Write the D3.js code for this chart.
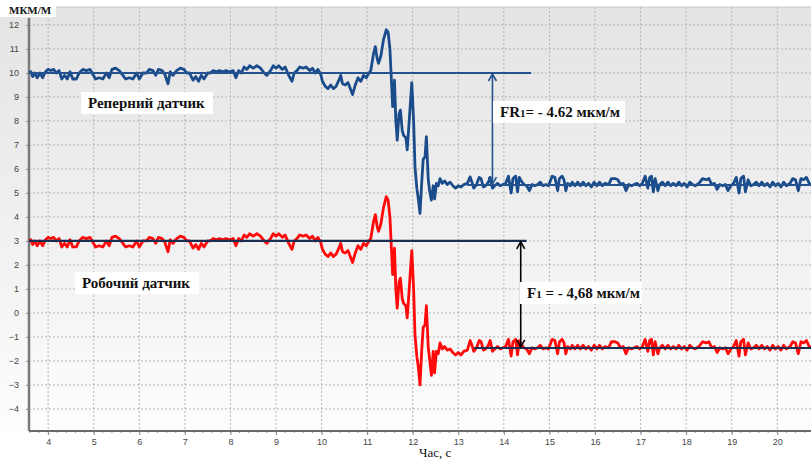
<!DOCTYPE html>
<html>
<head>
<meta charset="utf-8">
<script src="https://cdn.jsdelivr.net/npm/d3@7"></script>
<style>
  body { margin: 0; background: #fff; }
  svg { display: block; }
</style>
</head>
<body>
<div id="chart"></div>
<script>
// tick values
const xTicks = [4, 5, 6, 7, 8, 9, 10, 11, 12, 13, 14, 15, 16, 17, 18, 19, 20];
const yTicks = [-4, -3, -2, -1, 0, 1, 2, 3, 4, 5, 6, 7, 8, 9, 10, 11, 12];

// [time, s ; strain, мкм/м]
const reperSeries = [
  [3.58,10.0],[3.62,10.05],[3.66,9.85],[3.7,10.0],[3.76,9.8],[3.82,10.0],[3.88,9.8],[3.94,10.05],[4.0,10.15],[4.06,10.1],
  [4.12,10.15],[4.18,10.0],[4.24,10.1],[4.3,9.75],[4.36,9.9],[4.42,9.75],[4.48,10.05],[4.54,9.75],[4.62,9.75],[4.68,10.0],
  [4.76,10.15],[4.84,10.1],[4.92,10.15],[4.98,9.95],[5.04,9.75],[5.12,9.8],[5.2,9.75],[5.28,10.0],[5.34,9.8],[5.4,10.15],
  [5.48,10.2],[5.56,10.1],[5.62,9.95],[5.7,9.75],[5.78,9.8],[5.86,9.75],[5.94,10.0],[6.0,9.75],[6.08,10.0],[6.16,10.0],
  [6.22,10.15],[6.3,10.1],[6.36,9.9],[6.42,10.15],[6.5,10.1],[6.56,9.95],[6.63,9.55],[6.68,10.05],[6.74,9.9],[6.82,10.1],
  [6.9,10.2],[6.98,10.15],[7.04,10.0],[7.1,10.0],[7.18,9.7],[7.24,9.85],[7.3,9.65],[7.36,9.9],[7.42,9.75],[7.5,10.0],
  [7.56,10.0],[7.62,10.1],[7.7,10.05],[7.76,10.1],[7.84,10.05],[7.9,10.1],[7.98,10.05],[8.06,10.1],[8.12,9.8],[8.18,10.1],
  [8.24,10.0],[8.3,10.25],[8.36,10.15],[8.42,10.3],[8.5,10.2],[8.58,10.3],[8.66,10.2],[8.74,10.0],[8.8,9.9],[8.88,10.1],
  [8.94,10.3],[9.0,10.2],[9.06,10.3],[9.14,10.15],[9.2,10.25],[9.28,9.9],[9.35,9.65],[9.4,10.0],[9.46,10.1],[9.52,10.25],
  [9.6,10.2],[9.66,10.25],[9.74,10.1],[9.8,10.2],[9.86,10.0],[9.92,10.15],[9.98,9.95],[10.02,9.65],[10.08,9.45],[10.14,9.35],
  [10.2,9.5],[10.26,9.35],[10.32,9.45],[10.38,9.7],[10.42,9.9],[10.46,9.55],[10.52,9.5],[10.58,9.6],[10.64,9.3],[10.68,9.1],
  [10.74,9.5],[10.8,9.8],[10.86,9.65],[10.92,9.9],[10.98,9.8],[11.04,10.0],[11.08,10.1],[11.14,10.8],[11.18,11.1],[11.22,10.6],
  [11.25,10.4],[11.3,10.7],[11.36,11.4],[11.42,11.8],[11.46,11.7],[11.5,11.0],[11.54,9.4],[11.56,8.6],[11.6,9.7],[11.63,8.0],
  [11.66,7.2],[11.7,8.3],[11.73,8.45],[11.77,7.6],[11.8,7.4],[11.85,7.3],[11.88,6.8],[11.93,8.2],[11.98,9.6],[12.02,8.0],
  [12.05,6.1],[12.09,5.2],[12.12,4.8],[12.16,4.15],[12.2,5.5],[12.23,6.4],[12.27,6.5],[12.3,7.35],[12.34,5.6],[12.37,5.1],
  [12.41,4.7],[12.45,5.3],[12.48,4.75],[12.52,5.4],[12.56,5.3],[12.6,5.6],[12.65,5.4],[12.7,5.5],[12.76,5.35],[12.82,5.45],
  [12.88,5.3],[12.94,5.2],[13.0,5.3],[13.06,5.25],[13.12,5.35],[13.2,5.4],[13.26,5.67],[13.3,5.45],[13.34,5.2],[13.4,5.35],
  [13.46,5.65],[13.5,5.6],[13.55,5.25],[13.6,5.3],[13.66,5.45],[13.7,5.65],[13.75,5.2],[13.8,5.3],[13.86,5.4],[13.92,5.3],
  [13.98,5.35],[14.04,5.4],[14.1,5.7],[14.16,5.0],[14.2,5.6],[14.26,5.7],[14.3,5.05],[14.34,5.65],[14.38,5.5],[14.44,5.35],
  [14.5,5.3],[14.56,5.1],[14.62,5.35],[14.68,5.3],[14.74,5.35],[14.8,5.45],[14.86,5.3],[14.92,5.35],[14.98,5.3],[15.06,5.7],
  [15.12,5.65],[15.18,5.1],[15.22,5.6],[15.28,5.7],[15.32,5.55],[15.36,5.1],[15.4,5.4],[15.46,5.3],[15.5,5.45],[15.56,5.3],
  [15.62,5.45],[15.68,5.3],[15.74,5.45],[15.8,5.3],[15.86,5.4],[15.92,5.25],[15.98,5.45],[16.04,5.3],[16.1,5.45],[16.16,5.3],
  [16.22,5.4],[16.3,5.35],[16.36,5.6],[16.44,5.6],[16.5,5.55],[16.56,5.35],[16.62,5.4],[16.68,5.1],[16.74,5.35],[16.8,5.3],
  [16.86,5.35],[16.92,5.4],[16.98,5.3],[17.04,5.4],[17.1,5.7],[17.16,5.2],[17.2,5.65],[17.24,5.7],[17.28,5.05],[17.32,5.6],
  [17.38,5.1],[17.42,5.35],[17.48,5.45],[17.54,5.3],[17.6,5.45],[17.66,5.3],[17.72,5.4],[17.78,5.3],[17.84,5.45],[17.9,5.3],
  [17.96,5.4],[18.02,5.25],[18.08,5.45],[18.14,5.35],[18.2,5.3],[18.28,5.4],[18.36,5.6],[18.44,5.55],[18.5,5.6],[18.56,5.35],
  [18.62,5.4],[18.68,5.15],[18.74,5.35],[18.8,5.3],[18.86,5.35],[18.92,5.1],[18.98,5.3],[19.04,5.4],[19.1,5.65],[19.16,5.0],
  [19.2,5.6],[19.26,5.7],[19.3,5.05],[19.36,5.55],[19.42,5.3],[19.48,5.35],[19.54,5.45],[19.6,5.3],[19.66,5.45],[19.72,5.3],
  [19.78,5.4],[19.84,5.25],[19.9,5.45],[19.96,5.3],[20.02,5.4],[20.08,5.25],[20.14,5.45],[20.2,5.3],[20.28,5.4],[20.34,5.6],
  [20.4,5.55],[20.46,5.1],[20.52,5.6],[20.58,5.55],[20.64,5.65],[20.7,5.4],[20.76,5.35]
];

const robochySeries = [
  [3.58,3.0],[3.62,3.05],[3.66,2.85],[3.7,3.0],[3.76,2.8],[3.82,3.0],[3.88,2.8],[3.94,3.05],[4.0,3.15],[4.06,3.1],
  [4.12,3.15],[4.18,3.0],[4.24,3.1],[4.3,2.75],[4.36,2.9],[4.42,2.75],[4.48,3.05],[4.54,2.75],[4.62,2.75],[4.68,3.0],
  [4.76,3.15],[4.84,3.1],[4.92,3.15],[4.98,2.95],[5.04,2.75],[5.12,2.8],[5.2,2.75],[5.28,3.0],[5.34,2.8],[5.4,3.15],
  [5.48,3.2],[5.56,3.1],[5.62,2.95],[5.7,2.75],[5.78,2.8],[5.86,2.75],[5.94,3.0],[6.0,2.75],[6.08,3.0],[6.16,3.0],
  [6.22,3.15],[6.3,3.1],[6.36,2.9],[6.42,3.15],[6.5,3.1],[6.56,2.95],[6.63,2.55],[6.68,3.05],[6.74,2.9],[6.82,3.1],
  [6.9,3.2],[6.98,3.15],[7.04,3.0],[7.1,3.0],[7.18,2.7],[7.24,2.85],[7.3,2.65],[7.36,2.9],[7.42,2.75],[7.5,3.0],
  [7.56,3.0],[7.62,3.1],[7.7,3.05],[7.76,3.1],[7.84,3.05],[7.9,3.1],[7.98,3.05],[8.06,3.1],[8.12,2.8],[8.18,3.1],
  [8.24,3.0],[8.3,3.25],[8.36,3.15],[8.42,3.3],[8.5,3.2],[8.58,3.3],[8.66,3.2],[8.74,3.0],[8.8,2.9],[8.88,3.1],
  [8.94,3.3],[9.0,3.2],[9.06,3.3],[9.14,3.15],[9.2,3.25],[9.28,2.9],[9.35,2.65],[9.4,3.0],[9.46,3.1],[9.52,3.25],
  [9.6,3.2],[9.66,3.25],[9.74,3.1],[9.8,3.2],[9.86,3.0],[9.92,3.15],[9.98,2.95],[10.02,2.65],[10.08,2.45],[10.14,2.35],
  [10.2,2.5],[10.26,2.35],[10.32,2.45],[10.38,2.7],[10.42,2.9],[10.46,2.55],[10.52,2.5],[10.58,2.6],[10.64,2.3],[10.68,2.1],
  [10.74,2.5],[10.8,2.8],[10.86,2.65],[10.92,2.9],[10.98,2.8],[11.04,3.0],[11.08,3.1],[11.14,3.8],[11.18,4.1],[11.22,3.6],
  [11.25,3.4],[11.3,3.7],[11.36,4.4],[11.42,4.85],[11.46,4.7],[11.5,4.0],[11.54,2.4],[11.56,1.6],[11.6,2.7],[11.63,1.0],
  [11.66,0.2],[11.7,1.3],[11.73,1.45],[11.77,0.6],[11.8,0.4],[11.85,0.3],[11.88,-0.2],[11.93,1.2],[11.98,2.6],[12.02,1.0],
  [12.05,-0.9],[12.09,-1.8],[12.12,-2.2],[12.16,-3.0],[12.2,-1.5],[12.23,-0.6],[12.27,-0.5],[12.3,0.3],[12.34,-1.4],[12.37,-1.9],
  [12.41,-2.6],[12.45,-1.6],[12.48,-2.5],[12.52,-1.6],[12.56,-1.7],[12.6,-1.25],[12.65,-1.5],[12.7,-1.4],[12.76,-1.55],[12.82,-1.5],
  [12.88,-1.65],[12.94,-1.75],[13.0,-1.65],[13.06,-1.75],[13.12,-1.6],[13.2,-1.55],[13.26,-1.15],[13.3,-1.35],[13.34,-1.6],[13.4,-1.45],
  [13.46,-1.15],[13.5,-1.2],[13.55,-1.55],[13.6,-1.5],[13.66,-1.35],[13.7,-1.15],[13.75,-1.6],[13.8,-1.5],[13.86,-1.4],[13.92,-1.5],
  [13.98,-1.45],[14.04,-1.4],[14.1,-1.1],[14.16,-1.8],[14.2,-1.2],[14.26,-1.1],[14.3,-1.75],[14.34,-1.15],[14.38,-1.3],[14.44,-1.45],
  [14.5,-1.5],[14.56,-1.7],[14.62,-1.45],[14.68,-1.5],[14.74,-1.45],[14.8,-1.35],[14.86,-1.5],[14.92,-1.45],[14.98,-1.5],[15.06,-1.1],
  [15.12,-1.15],[15.18,-1.7],[15.22,-1.2],[15.28,-1.1],[15.32,-1.25],[15.36,-1.7],[15.4,-1.4],[15.46,-1.5],[15.5,-1.35],[15.56,-1.5],
  [15.62,-1.35],[15.68,-1.5],[15.74,-1.35],[15.8,-1.5],[15.86,-1.4],[15.92,-1.55],[15.98,-1.35],[16.04,-1.5],[16.1,-1.35],[16.16,-1.5],
  [16.22,-1.4],[16.3,-1.45],[16.36,-1.2],[16.44,-1.2],[16.5,-1.25],[16.56,-1.45],[16.62,-1.4],[16.68,-1.7],[16.74,-1.45],[16.8,-1.5],
  [16.86,-1.45],[16.92,-1.4],[16.98,-1.5],[17.04,-1.4],[17.1,-1.1],[17.16,-1.6],[17.2,-1.15],[17.24,-1.1],[17.28,-1.75],[17.32,-1.2],
  [17.38,-1.7],[17.42,-1.45],[17.48,-1.35],[17.54,-1.5],[17.6,-1.35],[17.66,-1.5],[17.72,-1.4],[17.78,-1.5],[17.84,-1.35],[17.9,-1.5],
  [17.96,-1.4],[18.02,-1.55],[18.08,-1.35],[18.14,-1.45],[18.2,-1.5],[18.28,-1.4],[18.36,-1.2],[18.44,-1.25],[18.5,-1.2],[18.56,-1.45],
  [18.62,-1.4],[18.68,-1.65],[18.74,-1.45],[18.8,-1.5],[18.86,-1.45],[18.92,-1.7],[18.98,-1.5],[19.04,-1.4],[19.1,-1.15],[19.16,-1.8],
  [19.2,-1.2],[19.26,-1.1],[19.3,-1.75],[19.36,-1.25],[19.42,-1.5],[19.48,-1.45],[19.54,-1.35],[19.6,-1.5],[19.66,-1.35],[19.72,-1.5],
  [19.78,-1.4],[19.84,-1.55],[19.9,-1.35],[19.96,-1.5],[20.02,-1.4],[20.08,-1.55],[20.14,-1.35],[20.2,-1.5],[20.28,-1.4],[20.34,-1.2],
  [20.4,-1.25],[20.46,-1.7],[20.52,-1.2],[20.58,-1.25],[20.64,-1.15],[20.7,-1.4],[20.76,-1.45]
];

// level lines [t from, t to, value] and the two difference arrows
const reperLevels = [[3.58, 14.6, 10.0], [13.2, 20.8, 5.33]];
const robochyLevels = [[3.58, 14.5, 3.0], [13.35, 20.8, -1.46]];
const reperArrow = { t: 13.75, from: 10.0, to: 5.33 };
const robochyArrow = { t: 14.37, from: 3.0, to: -1.46 };

const W = 811, H = 459;
const margin = { top: 7, right: 0, bottom: 28, left: 29 };
const serif = "'Liberation Serif', 'Times New Roman', serif";

const svg = d3.select("#chart").append("svg")
  .attr("width", W).attr("height", H)
  .style("font-family", "'DejaVu Sans', sans-serif");

const x = d3.scaleLinear().domain([3.58, 20.74]).range([margin.left, W - margin.right]);
const y = d3.scaleLinear().domain([-4.92, 12.75]).range([H - margin.bottom, margin.top]);

// background gradient
const defs = svg.append("defs");
const grad = defs.append("linearGradient").attr("id", "bg").attr("x1", 0).attr("y1", 0).attr("x2", 0).attr("y2", 1);
grad.append("stop").attr("offset", "0%").attr("stop-color", "#e4e4e4");
grad.append("stop").attr("offset", "55%").attr("stop-color", "#f1f1f1");
grad.append("stop").attr("offset", "100%").attr("stop-color", "#fdfdfd");

svg.append("rect")
  .attr("x", 0).attr("y", margin.top)
  .attr("width", W).attr("height", H - margin.bottom - margin.top)
  .attr("fill", "url(#bg)");
svg.append("line")
  .attr("x1", margin.left).attr("x2", W).attr("y1", margin.top).attr("y2", margin.top)
  .attr("stroke", "#c8c8c8");

// grid
svg.append("g").selectAll("line").data(xTicks).join("line")
  .attr("x1", d => x(d)).attr("x2", d => x(d))
  .attr("y1", margin.top).attr("y2", H - margin.bottom)
  .attr("stroke", "#b4b4b4").attr("stroke-dasharray", "2,2");
svg.append("g").selectAll("line").data(yTicks).join("line")
  .attr("x1", margin.left).attr("x2", W)
  .attr("y1", d => y(d)).attr("y2", d => y(d))
  .attr("stroke", "#b4b4b4").attr("stroke-dasharray", "2,2");

// axes
const yAxis = svg.append("g")
  .attr("transform", "translate(" + margin.left + ",0)")
  .call(d3.axisLeft(y).tickValues(yTicks).tickSize(3).tickPadding(7));
const xAxis = svg.append("g")
  .attr("transform", "translate(0," + (H - margin.bottom) + ")")
  .call(d3.axisBottom(x).tickValues(xTicks).tickSize(4).tickPadding(4));
[xAxis, yAxis].forEach(g => {
  g.select(".domain").remove();
  g.selectAll("line").attr("stroke", "#888");
  g.selectAll("text").attr("fill", "#444").style("font-size", "9px");
});
// minor ticks on the time axis
svg.append("g").selectAll("line").data(d3.range(3.6, 20.75, 0.2)).join("line")
  .attr("x1", d => x(d)).attr("x2", d => x(d))
  .attr("y1", H - margin.bottom).attr("y2", H - margin.bottom + 2)
  .attr("stroke", "#999");

svg.append("line")
  .attr("x1", margin.left).attr("x2", margin.left)
  .attr("y1", 18).attr("y2", H - margin.bottom)
  .attr("stroke", "#7a7a7a").attr("stroke-width", 2.5);
svg.append("line")
  .attr("x1", margin.left).attr("x2", W)
  .attr("y1", H - margin.bottom).attr("y2", H - margin.bottom)
  .attr("stroke", "#6a6a6a").attr("stroke-width", 2);

// series
const line = d3.line().x(d => x(d[0])).y(d => y(d[1]));
svg.append("path").datum(reperSeries)
  .attr("d", line).attr("fill", "none")
  .attr("stroke", "#1a4c8c").attr("stroke-width", 2.8).attr("stroke-linejoin", "round");
svg.append("path").datum(robochySeries)
  .attr("d", line).attr("fill", "none")
  .attr("stroke", "#ff0a0a").attr("stroke-width", 2.8).attr("stroke-linejoin", "round");

// level lines
svg.append("g").selectAll("line").data(reperLevels).join("line")
  .attr("x1", d => x(d[0])).attr("x2", d => x(d[1]))
  .attr("y1", d => y(d[2])).attr("y2", d => y(d[2]))
  .attr("stroke", "#24528e").attr("stroke-width", 2);
svg.append("g").selectAll("line").data(robochyLevels).join("line")
  .attr("x1", d => x(d[0])).attr("x2", d => x(d[1]))
  .attr("y1", d => y(d[2])).attr("y2", d => y(d[2]))
  .attr("stroke", "#1b2d50").attr("stroke-width", 2.2);

function arrow(a, color) {
  const g = svg.append("g").attr("stroke", color).attr("fill", "none").attr("stroke-width", 1.6);
  const ax = x(a.t), y1 = y(a.from), y2 = y(a.to);
  g.append("line").attr("x1", ax).attr("x2", ax).attr("y1", y1 + 1).attr("y2", y2 - 1);
  g.append("path").attr("d", `M${ax - 4},${y1 + 8}L${ax},${y1 + 1}L${ax + 4},${y1 + 8}`);
  g.append("path").attr("d", `M${ax - 4},${y2 - 8}L${ax},${y2 - 1}L${ax + 4},${y2 - 8}`);
}
arrow(reperArrow, "#24528e");
arrow(robochyArrow, "#000");

// labels with white boxes
function label(tx, ty, parts, boxW) {
  svg.append("rect").attr("x", tx - 7).attr("y", ty - 16).attr("width", boxW).attr("height", 22).attr("fill", "#fff");
  const t = svg.append("text").attr("x", tx).attr("y", ty)
    .style("font-family", serif)
    .style("font-weight", "bold").style("font-size", "15px").attr("fill", "#111");
  parts.forEach(p => t.append("tspan").text(p[0]).style("font-size", p[1] + "px"));
}
label(88, 108, [["Реперний датчик", 15]], 132);
label(82, 288, [["Робочий датчик", 15]], 124);
label(500, 117, [["FR", 15], ["1", 11], ["= - 4.62 мкм/м", 15]], 132);
label(527, 298, [["F", 15], ["1", 11], [" = - 4,68 мкм/м", 15]], 122);

// unit label and axis title
svg.append("rect").attr("x", 0).attr("y", 0).attr("width", 56).attr("height", 17).attr("fill", "#fff");
svg.append("text").attr("x", 9).attr("y", 14).text("МКМ/М")
  .style("font-family", serif).style("font-weight", "bold")
  .style("font-size", "11px").attr("fill", "#111");
svg.append("text").attr("x", 419).attr("y", 457).text("Час, с")
  .style("font-family", serif).style("font-size", "13px").attr("fill", "#111");
</script>
</body>
</html>
